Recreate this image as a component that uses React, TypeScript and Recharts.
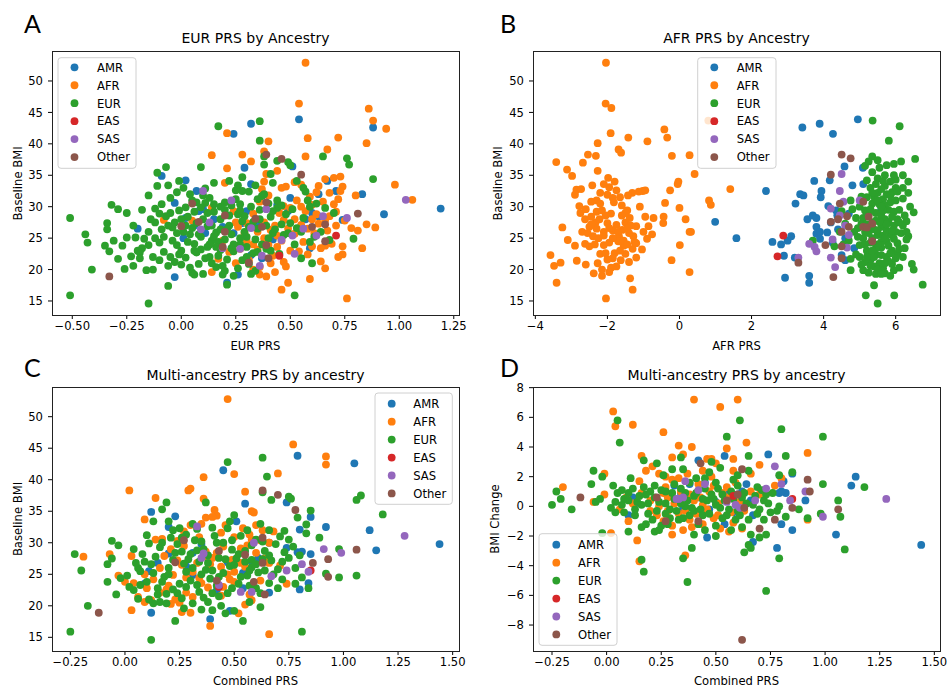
import { ScatterChart, Scatter, XAxis, YAxis } from 'recharts'

type Pt = [number, number]

const ancestries = ['AMR', 'AFR', 'EUR', 'EAS', 'SAS', 'Other']
const colors = ['#1f77b4', '#ff7f0e', '#2ca02c', '#d62728', '#9467bd', '#8c564b']

const bmiTicks = [15, 20, 25, 30, 35, 40, 45, 50]
const eurPrsTicks = [-0.5, -0.25, 0, 0.25, 0.5, 0.75, 1, 1.25]
const afrPrsTicks = [-4, -2, 0, 2, 4, 6]
const combinedTicks = [-0.25, 0, 0.25, 0.5, 0.75, 1, 1.25, 1.5]
const changeTicks = [-8, -6, -4, -2, 0, 2, 4, 6, 8]

// A: EUR PRS vs baseline BMI
const aAmr: Pt[] = [
  [0.54, 43.9], [0.32, 43.2], [0.24, 41.6], [0.88, 42.6], [0.29, 36.2], [0.51, 36.4], [0.02, 34.2], [-0.09, 34.9],
  [0.32, 33.6], [0.67, 34.1], [0.07, 32.5], [0.83, 32.0], [0.63, 32.0], [0.71, 32.5], [0.08, 29.3], [0.1, 29.6],
  [0.3, 29.3], [0.49, 29.3], [0.5, 31.4], [-0.03, 30.6], [0.02, 28.2], [0.57, 28.0], [0.63, 28.5], [0.93, 28.8],
  [1.19, 29.7], [-0.2, 26.5], [0.01, 25.0], [0.19, 26.8], [0.32, 22.3], [0.59, 23.4], [0.74, 27.9], [-0.03, 18.8],
  [0.21, 17.9], [0.26, 19.2], [0.37, 21.8], [0.42, 24.8], [0.11, 25.8], [0.28, 27.4], [0.06, 27.0], [0.15, 28.0],
  [0.35, 27.2], [0.44, 30.3], [0.6, 29.0], [0.24, 25.8],
]
const aAfr: Pt[] = [
  [0.57, 52.9], [0.54, 46.4], [0.86, 45.6], [0.88, 43.7], [0.94, 42.4], [0.21, 41.7], [0.58, 40.9], [0.72, 41.0],
  [0.4, 40.4], [0.85, 40.1], [0.67, 39.1], [0.14, 38.2], [0.28, 38.3], [0.57, 38.0], [0.32, 37.2], [0.38, 38.8],
  [0.21, 36.1], [0.39, 35.2], [0.44, 35.7], [0.2, 33.8], [0.38, 34.0], [0.48, 33.2], [0.55, 33.5], [0.63, 33.3],
  [0.66, 34.4], [0.7, 34.6], [0.73, 34.8], [0.74, 33.2], [0.73, 32.5], [0.72, 31.2], [0.68, 32.2], [0.62, 32.3],
  [0.7, 30.4], [0.8, 31.8], [0.98, 33.5], [1.06, 31.1], [0.71, 29.2], [0.6, 30.3], [0.47, 30.1], [0.36, 30.8],
  [0.57, 29.3], [0.66, 27.9], [0.75, 27.8], [0.78, 26.6], [0.81, 26.2], [0.85, 27.2], [0.89, 26.7], [0.83, 23.4],
  [0.74, 23.7], [0.74, 22.4], [0.72, 22.0], [0.66, 23.8], [0.64, 23.4], [0.64, 21.3], [0.66, 20.2], [0.59, 18.5],
  [0.76, 15.4], [0.49, 17.9], [0.46, 16.8], [0.47, 21.2], [0.41, 21.0], [0.39, 18.9], [0.36, 19.2], [0.25, 21.0],
  [0.14, 19.6], [0.17, 21.7], [0.27, 23.3], [0.3, 24.6], [-0.08, 27.9], [0.05, 27.8], [0.14, 29.8], [0.25, 27.5],
  [0.33, 28.9], [0.43, 27.0], [0.46, 24.6], [0.52, 25.7], [0.55, 27.1], [0.6, 23.7], [0.5, 23.0], [0.42, 22.2],
  [0.35, 26.0], [0.26, 26.8], [0.55, 30.0], [0.59, 31.6], [0.4, 31.8], [0.45, 29.0], [0.52, 28.0], [0.38, 27.5],
  [0.29, 25.8], [0.33, 24.0], [0.44, 23.6], [0.49, 26.5], [0.58, 26.5], [0.62, 28.8], [0.68, 28.5], [0.36, 20.4],
  [0.31, 21.5], [0.35, 23.2], [0.38, 25.0], [0.41, 26.3], [0.44, 25.4], [0.47, 27.9], [0.5, 29.8], [0.53, 31.0],
  [0.56, 24.4], [0.58, 22.4], [0.61, 25.8], [0.63, 27.3], [0.65, 30.8], [0.67, 26.2], [0.69, 24.1], [0.71, 27.0],
  [0.48, 20.5], [0.43, 19.6], [0.33, 20.0], [0.3, 27.4], [0.24, 29.3], [0.19, 24.6], [0.22, 22.8], [0.37, 32.8],
  [0.46, 33.0], [0.52, 33.9], [0.6, 28.0], [0.54, 22.9], [0.4, 23.9],
]
const aEur: Pt[] = [
  [-0.51, 28.2], [-0.51, 15.9], [-0.15, 14.6], [-0.44, 25.6], [-0.43, 24.3], [-0.41, 20.0], [-0.32, 30.3], [-0.29, 29.6],
  [-0.25, 29.0], [-0.34, 27.4], [-0.34, 26.4], [-0.35, 23.8], [-0.33, 22.9], [-0.31, 24.6], [-0.29, 21.7], [-0.25, 25.1],
  [-0.26, 20.1], [-0.22, 20.6], [-0.21, 25.1], [-0.19, 22.7], [-0.19, 21.8], [-0.18, 23.4], [-0.15, 23.9], [-0.12, 25.0],
  [-0.16, 19.9], [-0.13, 20.0], [-0.13, 22.0], [-0.1, 21.5], [-0.06, 17.4], [-0.1, 24.3], [-0.09, 26.4], [-0.12, 27.5],
  [-0.14, 28.0], [-0.12, 29.7], [-0.09, 30.4], [-0.11, 33.3], [-0.11, 35.4], [-0.07, 36.3], [-0.06, 33.4], [-0.02, 32.3],
  [-0.01, 34.1], [-0.05, 29.0], [-0.03, 27.5], [-0.02, 25.8], [0.01, 26.0], [-0.02, 23.9], [-0.01, 22.4], [0.02, 21.9],
  [0.04, 20.3], [0.05, 19.5], [0.1, 19.3], [0.08, 20.9], [0.07, 22.7], [0.06, 24.1], [0.09, 25.2], [0.03, 28.4],
  [0.06, 29.2], [0.05, 31.0], [0.1, 31.8], [0.13, 31.4], [0.09, 36.3], [0.17, 42.8], [0.36, 43.6], [0.36, 40.5],
  [0.38, 38.0], [0.38, 36.7], [0.22, 34.1], [0.26, 33.4], [0.28, 32.5], [0.25, 31.2], [0.2, 30.7], [0.15, 30.4],
  [0.15, 29.2], [0.18, 28.0], [0.22, 27.0], [0.16, 25.9], [0.14, 24.6], [0.12, 23.6], [0.18, 23.1], [0.21, 21.6],
  [0.16, 20.4], [0.19, 19.2], [0.21, 17.6], [0.24, 19.0], [0.28, 21.5], [0.27, 24.0], [0.3, 25.2], [0.31, 26.8],
  [0.29, 28.5], [0.32, 30.0], [0.35, 31.2], [0.38, 32.0], [0.4, 30.5], [0.42, 33.8], [0.44, 37.3], [0.49, 37.1],
  [0.5, 36.6], [0.53, 34.1], [0.56, 33.0], [0.57, 32.4], [0.59, 30.0], [0.65, 38.0], [0.76, 37.7], [0.77, 36.7],
  [0.88, 34.4], [0.7, 29.0], [0.79, 24.9], [0.61, 25.2], [0.68, 24.7], [0.55, 21.8], [0.6, 21.0], [0.52, 15.9],
  [0.34, 19.8], [0.37, 24.0], [0.42, 25.8], [0.46, 27.2], [0.48, 28.8], [0.44, 29.8], [0.36, 28.0], [0.26, 28.8],
  [0.02, 27.0], [-0.01, 29.4], [-0.07, 28.5], [-0.04, 26.7], [0.12, 26.9], [0.1, 28.0], [0.13, 22.0], [0.24, 22.9],
  [0.33, 22.6], [0.39, 23.3], [0.45, 22.5], [0.52, 24.0], [0.55, 26.0], [0.49, 25.8], [-0.05, 22.0], [0.0, 20.8],
  [0.09, 23.2], [0.17, 24.4], [0.23, 25.6], [0.05, 26.6], [-0.08, 25.2], [0.11, 30.6], [0.2, 29.5], [0.27, 30.4],
  [0.33, 27.6], [0.41, 28.4], [0.24, 24.0], [0.18, 26.4], [0.06, 23.0], [-0.04, 24.6], [0.14, 21.0], [0.3, 22.0],
  [-0.08, 22.8], [-0.06, 20.6], [-0.03, 21.2], [0.0, 23.0], [0.03, 24.4], [0.04, 25.6], [0.07, 27.4], [0.09, 29.9],
  [0.11, 32.9], [0.12, 29.0], [0.14, 27.0], [0.15, 25.3], [0.16, 23.6], [0.17, 22.2], [0.19, 20.6], [0.2, 24.8],
  [0.21, 26.4], [0.22, 28.6], [0.23, 30.2], [0.25, 32.6], [0.27, 29.4], [0.28, 27.7], [0.29, 26.0], [0.3, 23.6],
  [0.31, 20.9], [0.32, 19.3], [0.34, 24.8], [0.35, 26.5], [0.36, 29.5], [0.37, 31.7], [0.39, 27.0], [0.4, 25.0],
  [0.41, 23.0], [0.43, 26.4], [0.44, 31.0], [0.46, 30.2], [0.47, 25.5], [0.5, 27.4], [0.51, 29.6], [0.53, 26.6],
  [-0.15, 26.0], [-0.17, 24.9], [-0.2, 23.0], [-0.23, 22.1], [-0.27, 23.8], [-0.22, 27.0], [-0.18, 29.5], [-0.15, 31.8],
  [-0.05, 31.4], [0.01, 33.0], [0.04, 32.0], [0.07, 30.7], [0.0, 28.0], [-0.06, 27.0], [0.11, 21.8], [0.06, 19.2],
  [0.2, 19.8], [0.26, 20.2], [0.13, 24.0], [0.23, 23.4], [0.18, 30.0], [0.31, 32.4], [0.34, 33.4], [0.42, 29.3],
  [0.56, 28.2], [0.58, 31.0], [0.62, 30.5], [0.66, 29.8], [0.64, 26.0], [0.59, 24.4], [0.35, 22.8], [0.27, 25.0],
  [0.08, 25.6], [0.02, 29.9], [-0.1, 28.9], [0.15, 33.8], [0.28, 34.7], [0.41, 35.2],
]
const aEas: Pt[] = [[0.71, 25.4], [0.45, 22.2]]
const aSas: Pt[] = [
  [0.1, 32.5], [0.23, 31.0], [0.39, 29.6], [0.13, 27.5], [0.09, 26.4], [0.32, 26.6], [0.65, 28.5], [0.76, 28.2],
  [1.03, 31.1], [0.56, 26.5], [0.51, 25.4], [0.46, 24.7], [0.62, 25.4], [0.52, 22.5], [0.27, 23.3], [0.19, 23.4],
  [0.37, 22.2], [0.36, 20.6],
]
const aOther: Pt[] = [
  [0.39, 38.3], [0.46, 37.6], [0.55, 35.1], [0.05, 30.5], [0.39, 30.7], [0.81, 28.9], [0.2, 28.6], [0.34, 28.1],
  [0.08, 27.6], [0.0, 26.9], [0.2, 26.0], [0.37, 26.8], [0.6, 26.8], [0.66, 27.2], [0.66, 24.5], [0.39, 23.9],
  [0.19, 23.6], [0.4, 21.8], [0.31, 21.1], [-0.33, 18.9],
]

// B: AFR PRS vs baseline BMI
const bAmr: Pt[] = [
  [4.95, 43.9], [3.41, 42.6], [3.89, 43.2], [4.26, 41.6], [5.09, 36.2], [4.58, 36.4], [3.74, 34.1], [4.17, 34.2],
  [4.8, 33.4], [5.1, 33.6], [2.4, 32.5], [3.35, 32.0], [3.44, 31.8], [3.94, 32.5], [3.92, 31.5], [3.22, 30.5],
  [4.13, 30.1], [0.99, 27.6], [1.58, 25.0], [2.58, 24.4], [2.82, 24.0], [3.0, 24.6], [3.1, 25.3], [2.9, 22.2],
  [3.2, 21.9], [2.93, 18.7], [3.6, 19.0], [3.6, 17.9], [3.55, 28.0], [3.7, 28.6], [3.8, 28.2], [3.8, 26.8],
  [3.8, 25.7], [3.9, 24.9], [4.2, 27.5], [4.38, 28.6], [4.4, 26.4], [4.6, 25.0], [4.5, 22.3], [4.6, 21.5],
  [4.7, 28.9], [5.2, 26.5], [5.6, 29.6], [5.2, 28.6], [4.35, 29.4], [4.1, 25.9], [4.25, 24.3], [4.85, 23.4],
  [3.9, 26.0],
]
const bAfr: Pt[] = [
  [-2.04, 52.9], [-2.05, 46.4], [-1.89, 45.7], [-1.91, 41.7], [-2.27, 40.1], [-1.42, 41.0], [-0.42, 42.3], [-0.34, 41.0],
  [-0.89, 40.4], [-1.69, 39.1], [-1.62, 38.6], [-2.54, 38.3], [-2.32, 38.1], [-0.21, 38.1], [0.28, 38.2], [-3.42, 37.1],
  [-2.68, 37.0], [-3.12, 35.9], [-2.98, 34.9], [-2.27, 35.7], [-1.98, 34.6], [-1.8, 34.0], [-2.42, 33.4], [0.42, 35.2],
  [-0.03, 34.0], [-0.05, 33.6], [1.41, 32.8], [-0.26, 32.6], [0.82, 31.0], [0.87, 30.3], [-0.4, 30.6], [0.0, 29.8],
  [0.17, 28.0], [0.28, 26.0], [0.32, 26.0], [-0.44, 28.4], [-0.45, 27.4], [-0.72, 28.2], [-0.86, 26.9], [-0.76, 25.6],
  [-0.9, 24.9], [0.01, 23.9], [-1.04, 23.2], [-1.2, 21.9], [-0.22, 21.5], [0.28, 19.6], [-1.37, 18.6], [-1.3, 16.8],
  [-2.04, 15.4], [-3.41, 17.9], [-3.58, 22.3], [-3.48, 20.6], [-3.3, 21.1], [-3.25, 26.7], [-3.1, 24.7], [-2.9, 23.8],
  [-2.85, 21.4], [-2.6, 20.8], [-2.5, 23.7], [-2.86, 32.7], [-2.73, 32.8], [-2.9, 31.9], [-2.78, 30.1], [-2.75, 29.0],
  [-2.62, 28.0], [-2.5, 26.8], [-2.4, 25.3], [-2.33, 27.5], [-2.22, 28.0], [-2.1, 26.0], [-2.0, 27.4], [-1.9, 28.9],
  [-1.82, 30.7], [-1.75, 27.1], [-1.68, 25.3], [-1.59, 26.3], [-1.5, 27.5], [-1.45, 29.4], [-1.38, 28.2], [-1.28, 25.3],
  [-1.2, 26.9], [-1.13, 32.4], [-1.02, 32.5], [-0.95, 32.6], [-1.31, 32.2], [-1.43, 31.8], [-1.85, 31.4], [-1.95, 33.1],
  [-2.1, 33.6], [-2.3, 31.0], [-2.45, 30.8], [-2.2, 30.5], [-2.35, 24.0], [-2.2, 22.5], [-2.27, 21.0], [-2.38, 19.4],
  [-2.15, 19.0], [-2.0, 21.6], [-1.9, 20.3], [-1.75, 20.5], [-1.63, 21.5], [-1.5, 22.5], [-1.4, 21.2], [-1.3, 23.3],
  [-1.55, 23.8], [-1.7, 24.5], [-1.95, 24.3], [-2.1, 23.9], [-1.6, 30.2], [-1.6, 28.6], [-1.1, 30.0], [-0.95, 28.4],
  [-2.62, 24.1], [-2.7, 26.0], [-2.1, 25.4], [0.8, 43.7], [-1.85, 26.2], [-2.3, 26.5], [-1.25, 24.4], [-1.8, 22.6],
  [-2.45, 28.4], [-2.3, 29.2], [-2.15, 29.4], [-2.05, 28.6], [-1.95, 26.6], [-1.85, 25.0], [-1.7, 26.0], [-1.55, 24.6],
  [-1.4, 25.8], [-1.35, 27.0], [-1.5, 29.0], [-1.65, 31.5], [-1.75, 32.6], [-2.0, 31.9], [-2.2, 32.2], [-2.45, 27.2],
  [-2.55, 25.8], [-2.25, 25.0], [-2.05, 22.6], [-1.85, 21.8], [-1.65, 23.0], [-1.45, 24.0], [-1.2, 24.2], [-1.0, 26.0],
  [-2.6, 29.6], [-2.15, 20.0], [-1.95, 19.6], [-1.45, 26.5],
]
const bEur: Pt[] = [
  [5.36, 43.7], [6.11, 42.8], [5.81, 40.5], [6.54, 37.6], [5.35, 38.0], [5.5, 37.4], [5.15, 36.5], [5.35, 35.5],
  [5.7, 35.0], [5.95, 36.8], [6.15, 37.2], [6.2, 35.0], [6.0, 34.3], [6.2, 33.0], [6.35, 32.2], [6.4, 30.0],
  [6.5, 29.1], [6.3, 27.7], [6.35, 25.3], [6.3, 24.8], [6.45, 20.9], [6.5, 20.0], [6.75, 17.6], [5.96, 15.9],
  [5.5, 14.6], [5.17, 15.9], [5.4, 17.5], [4.75, 19.9], [5.1, 19.9], [5.25, 19.5], [5.45, 19.3], [5.7, 19.4],
  [5.95, 19.9], [4.7, 24.6], [4.75, 21.7], [3.7, 24.6], [5.0, 22.0], [5.2, 23.0], [5.3, 24.3], [5.5, 25.5],
  [5.6, 26.8], [5.7, 28.0], [5.8, 29.5], [5.85, 30.7], [5.65, 31.2], [5.5, 32.2], [5.3, 33.0], [5.2, 31.5],
  [5.0, 30.0], [4.9, 28.2], [5.05, 27.3], [5.15, 26.0], [5.35, 27.5], [5.45, 29.0], [5.55, 30.4], [5.7, 33.3],
  [5.9, 32.3], [6.0, 31.0], [6.1, 29.5], [6.05, 28.0], [5.95, 27.0], [5.85, 25.6], [5.75, 24.5], [5.6, 23.5],
  [5.45, 22.4], [5.3, 21.5], [5.55, 21.0], [5.75, 22.0], [5.9, 23.0], [6.05, 24.2], [6.15, 25.8], [6.2, 27.0],
  [6.05, 22.5], [5.9, 20.9], [5.65, 20.2], [5.4, 20.5], [5.15, 21.2], [5.0, 23.9], [5.1, 25.0], [4.85, 26.0],
  [4.6, 27.3], [4.5, 29.3], [4.75, 31.0], [5.35, 30.5], [5.6, 28.6], [5.25, 28.8], [5.8, 27.6], [5.5, 26.2],
  [5.65, 25.4], [5.35, 25.0], [5.85, 34.0], [5.5, 34.5], [6.0, 33.0], [4.45, 26.0], [4.3, 23.7], [4.55, 24.0],
  [5.6, 24.4], [5.45, 23.4], [5.75, 26.2], [5.25, 26.9], [5.95, 29.2], [5.4, 31.6], [5.15, 29.4], [5.7, 30.2],
  [5.3, 22.6], [5.8, 21.3], [6.25, 23.4], [4.95, 25.2], [5.2, 34.2], [5.45, 33.6], [5.6, 32.8], [5.75, 32.0],
  [5.5, 31.0], [5.3, 29.6], [5.1, 28.2], [5.25, 25.8], [5.4, 26.4], [5.55, 27.6], [5.65, 29.4], [5.9, 28.4],
  [6.0, 26.0], [6.1, 23.3], [5.95, 24.9], [5.8, 23.8], [5.7, 21.0], [5.5, 20.0], [5.3, 20.6], [5.05, 20.8],
  [4.9, 22.4], [5.15, 24.0], [5.4, 22.0], [5.6, 22.3], [5.85, 22.6], [6.0, 21.8], [6.2, 22.0], [6.3, 26.0],
  [6.25, 28.6], [6.2, 31.3], [6.05, 32.4], [5.85, 31.8], [5.6, 30.0], [5.45, 27.8], [5.2, 27.2], [4.95, 26.6],
  [4.8, 29.6], [5.05, 31.6], [5.35, 32.2], [5.65, 34.1], [5.95, 35.0], [5.25, 37.2], [5.55, 36.2], [5.75, 36.6],
  [6.35, 34.0], [5.5, 24.0], [5.7, 25.0], [5.75, 27.2], [5.9, 26.2], [6.1, 27.5], [5.35, 23.0], [5.2, 22.0],
  [5.6, 19.3], [5.85, 19.0], [6.1, 20.3],
]
const bEas: Pt[] = [[2.88, 25.4], [2.72, 22.1]]
const bSas: Pt[] = [
  [4.5, 35.2], [4.45, 32.5], [4.55, 30.8], [5.0, 31.0], [4.2, 29.7], [4.45, 28.6], [4.6, 27.0], [4.7, 25.5],
  [4.25, 24.8], [3.75, 23.6], [3.8, 22.9], [4.2, 21.9], [4.32, 20.4], [3.3, 21.9], [4.65, 23.5], [3.6, 24.1],
]
const bOther: Pt[] = [
  [4.5, 38.3], [4.75, 37.7], [4.2, 35.1], [4.45, 30.5], [5.1, 30.8], [4.65, 28.5], [4.4, 28.0], [4.2, 27.6],
  [5.25, 28.4], [4.5, 26.0], [4.7, 26.8], [5.1, 26.8], [5.2, 26.7], [5.35, 27.3], [5.35, 24.5], [4.05, 23.9],
  [4.5, 23.7], [4.5, 21.8], [3.3, 21.1], [4.27, 18.8],
]

// C: combined PRS vs baseline BMI
const cAmr: Pt[] = [
  [0.79, 43.8], [0.45, 41.5], [1.05, 42.6], [0.55, 36.2], [0.74, 36.4], [0.12, 34.9], [0.23, 34.2], [0.2, 32.5],
  [0.85, 34.1], [0.92, 32.5], [0.8, 32.1], [1.12, 32.0], [1.44, 29.8], [1.15, 28.8], [0.51, 33.4], [0.85, 28.2],
  [0.79, 28.5], [0.81, 28.6], [0.74, 29.2], [0.61, 27.6], [0.47, 26.9], [0.2, 28.3], [0.11, 25.5], [0.09, 23.5],
  [0.31, 24.9], [0.54, 25.2], [0.84, 23.6], [0.8, 22.6], [0.66, 22.1], [0.54, 22.8], [0.42, 22.4], [0.12, 18.9],
  [0.39, 17.9], [0.48, 19.2], [0.31, 28.4], [0.28, 26.3], [0.35, 29.8], [0.58, 27.0], [0.66, 30.0], [0.15, 26.8],
]
const cAfr: Pt[] = [
  [0.47, 52.8], [0.77, 45.6], [0.92, 43.7], [0.92, 42.4], [0.7, 41.0], [0.5, 40.9], [0.36, 40.4], [0.3, 38.6],
  [0.29, 38.3], [0.02, 38.3], [0.55, 38.1], [0.14, 37.1], [0.36, 37.0], [0.58, 35.0], [0.59, 34.8], [0.41, 35.2],
  [0.42, 34.3], [0.37, 34.0], [0.4, 34.1], [0.09, 33.7], [0.46, 32.8], [0.3, 32.8], [0.54, 32.3], [0.6, 32.8],
  [0.63, 32.0], [0.68, 31.8], [0.66, 30.0], [0.58, 30.5], [0.14, 30.5], [0.17, 30.6], [0.24, 30.3], [-0.19, 27.8],
  [-0.07, 28.2], [0.03, 27.9], [-0.03, 24.8], [0.0, 23.8], [0.04, 23.6], [0.09, 25.0], [0.1, 22.8], [0.12, 20.9],
  [0.09, 20.6], [0.03, 19.3], [0.16, 22.1], [0.21, 20.3], [0.25, 20.5], [0.26, 19.0], [0.3, 18.9], [0.39, 16.8],
  [0.52, 18.8], [0.55, 20.2], [0.58, 20.9], [0.66, 15.5], [0.74, 23.5], [0.62, 24.0], [0.48, 24.2], [0.35, 23.6],
  [0.28, 22.1], [0.34, 24.4], [0.26, 26.5], [0.18, 27.9], [0.42, 28.4], [0.45, 29.4], [0.53, 29.1], [0.34, 30.9],
  [0.64, 27.5], [0.71, 26.4], [0.55, 26.2], [0.39, 26.6], [0.22, 24.9], [0.16, 26.0], [0.49, 27.3], [0.31, 21.4],
  [0.44, 21.6], [0.36, 27.8], [0.27, 29.5], [0.5, 25.4], [0.57, 31.3], [0.2, 23.2], [0.28, 24.5], [0.31, 25.4],
  [0.33, 26.8], [0.37, 28.6], [0.4, 27.6], [0.44, 26.2], [0.47, 25.0], [0.5, 23.8], [0.53, 26.8], [0.56, 29.6],
  [0.6, 28.4], [0.62, 30.4], [0.66, 26.8], [0.24, 27.2], [0.21, 29.0], [0.19, 22.6], [0.23, 21.0], [0.38, 22.9],
  [0.45, 23.0], [0.57, 21.8], [0.35, 33.0], [0.44, 31.6], [0.27, 31.8], [0.13, 24.2], [0.06, 21.4], [0.5, 30.9],
]
const cEur: Pt[] = [
  [0.47, 42.8], [0.63, 43.5], [0.65, 40.5], [0.63, 38.0], [0.67, 36.8], [0.75, 37.3], [0.76, 37.0], [1.06, 36.8],
  [1.08, 37.5], [1.18, 34.5], [0.85, 35.1], [0.79, 34.0], [0.83, 32.9], [0.89, 30.8], [0.98, 29.0], [0.92, 25.1],
  [0.98, 24.5], [1.06, 24.8], [0.81, 15.9], [0.81, 24.5], [0.78, 23.5], [0.84, 22.8], [0.72, 27.0], [0.73, 28.5],
  [0.75, 30.5], [0.73, 31.9], [0.66, 32.0], [0.62, 33.0], [0.5, 34.4], [0.47, 32.3], [0.37, 36.4], [0.19, 36.4],
  [0.17, 35.3], [0.13, 33.4], [0.2, 33.4], [0.25, 32.3], [0.33, 32.2], [0.28, 31.3], [0.21, 30.8], [0.11, 29.9],
  [0.04, 29.0], [-0.06, 30.3], [-0.03, 29.6], [-0.06, 27.5], [-0.08, 26.6], [-0.08, 23.8], [-0.04, 21.8], [-0.23, 28.2],
  [-0.2, 25.6], [-0.17, 20.0], [-0.25, 15.9], [0.12, 14.6], [0.23, 17.6], [0.54, 17.6], [0.4, 19.3], [0.44, 20.0],
  [0.5, 19.2], [0.62, 19.8], [0.57, 20.6], [0.6, 22.8], [0.7, 22.8], [0.68, 25.0], [0.64, 25.6], [0.01, 24.8],
  [0.04, 22.5], [0.06, 21.1], [0.07, 23.3], [0.1, 23.8], [0.13, 20.4], [0.16, 20.6], [0.19, 21.9], [0.22, 22.6],
  [0.25, 23.5], [0.28, 25.4], [0.22, 27.3], [0.14, 27.8], [0.08, 28.2], [0.16, 29.3], [0.24, 29.8], [0.3, 28.2],
  [0.34, 27.0], [0.37, 25.7], [0.39, 24.3], [0.42, 23.2], [0.45, 25.2], [0.48, 26.3], [0.51, 27.5], [0.55, 28.7],
  [0.58, 27.3], [0.61, 25.3], [0.64, 28.7], [0.69, 29.8], [0.6, 30.5], [0.53, 31.1], [0.45, 30.0], [0.41, 31.1],
  [0.36, 29.0], [0.32, 30.4], [0.27, 26.7], [0.33, 23.3], [0.36, 21.3], [0.31, 20.4], [0.26, 21.2], [0.4, 22.0],
  [0.52, 23.5], [0.56, 24.8], [0.47, 22.0], [0.3, 24.0], [0.18, 24.6], [0.12, 26.6], [0.06, 26.0], [0.2, 26.0],
  [0.35, 25.0], [0.43, 27.6], [0.49, 28.9], [0.58, 26.1], [0.67, 27.2], [0.26, 28.6], [0.38, 28.0], [0.15, 22.8],
  [0.05, 26.8], [0.09, 27.0], [0.13, 25.2], [0.17, 23.8], [0.2, 25.0], [0.23, 28.4], [0.26, 30.8], [0.29, 27.4],
  [0.31, 26.0], [0.33, 28.8], [0.35, 30.2], [0.38, 26.8], [0.4, 25.6], [0.43, 24.6], [0.46, 27.4], [0.49, 30.4],
  [0.52, 28.2], [0.55, 27.0], [0.57, 25.6], [0.6, 26.6], [0.63, 27.4], [0.66, 28.0], [0.7, 25.8], [0.75, 27.6],
  [0.78, 26.0], [0.8, 28.0], [0.83, 31.5], [0.71, 31.0], [0.63, 30.2], [0.56, 32.0], [0.48, 33.4], [0.4, 32.4],
  [0.31, 33.0], [0.22, 32.0], [0.17, 30.0], [0.1, 31.2], [0.07, 25.5], [0.02, 23.0], [-0.02, 24.4], [0.11, 21.0],
  [0.19, 20.4], [0.24, 22.0], [0.28, 23.0], [0.34, 22.2], [0.38, 20.6], [0.43, 21.5], [0.49, 22.8], [0.53, 24.6],
  [0.57, 23.2], [0.62, 22.0], [0.66, 23.6], [0.46, 18.8], [0.35, 19.4], [0.27, 19.6], [0.15, 21.8], [0.42, 30.0],
  [0.5, 26.5], [0.58, 29.6], [0.72, 24.2], [0.77, 29.4],
]
const cEas: Pt[] = [[0.85, 25.6], [0.43, 23.0]]
const cSas: Pt[] = [
  [0.33, 32.6], [0.36, 28.3], [0.35, 27.6], [0.59, 30.0], [0.91, 29.0], [0.99, 28.4], [1.28, 31.1], [0.81, 26.6],
  [0.74, 25.6], [0.84, 25.4], [0.67, 24.7], [0.43, 23.3], [0.53, 22.2], [0.58, 22.2],
]
const cOther: Pt[] = [
  [0.63, 38.3], [0.7, 37.6], [0.78, 35.2], [0.27, 30.4], [0.63, 30.8], [1.06, 28.9], [0.43, 28.7], [0.55, 28.1],
  [0.23, 26.9], [0.63, 26.8], [0.86, 26.8], [0.93, 27.4], [0.93, 24.6], [0.42, 24.0], [0.59, 23.8], [0.64, 21.8],
  [-0.12, 18.9],
]

// D: combined PRS vs BMI change
const dAmr: Pt[] = [
  [0.42, 3.1], [0.54, 3.4], [0.74, 3.5], [0.38, 1.5], [0.45, 1.6], [0.64, 1.5], [0.81, 1.7], [0.85, 2.2],
  [0.91, 0.4], [0.82, 0.9], [0.79, 0.9], [0.8, 1.0], [1.14, 2.0], [1.12, 1.4], [0.85, -1.6], [0.8, -1.2],
  [0.78, -2.8], [0.67, -2.4], [0.46, -2.1], [0.54, -1.2], [1.05, -1.9], [1.44, -2.6], [0.47, -0.2], [0.1, -0.6],
  [0.12, 0.6], [0.13, 0.2], [0.31, 1.4], [0.6, 0.8], [0.66, 0.4], [0.56, 0.9], [0.34, 0.9], [0.62, 1.0],
  [0.35, -0.1], [0.5, 0.3], [0.58, -0.4], [0.42, 0.6], [0.67, -0.6], [0.27, 0.9],
]
const dAfr: Pt[] = [
  [0.4, 7.2], [0.6, 7.2], [0.52, 6.7], [0.03, 6.4], [0.04, 5.4], [0.12, 5.5], [0.26, 5.0], [0.64, 4.3],
  [0.33, 4.1], [0.39, 4.0], [0.55, 3.9], [0.92, 3.6], [0.16, 3.4], [0.3, 3.3], [0.46, 3.2], [0.48, 3.2],
  [0.35, 3.5], [0.5, 2.9], [0.58, 3.2], [0.7, 2.8], [0.21, 2.7], [0.18, 2.4], [0.24, 2.2], [-0.01, 2.2],
  [0.37, 2.2], [0.58, 2.4], [-0.2, 1.3], [0.15, 1.7], [0.3, 1.8], [0.42, 1.5], [0.55, 1.3], [0.77, 1.4],
  [0.66, 1.0], [-0.06, 0.3], [-0.01, 0.8], [0.06, -0.2], [0.1, -1.0], [0.2, -0.3], [0.26, -1.0], [0.3, -1.3],
  [0.35, -1.6], [0.3, -1.9], [0.52, -1.5], [0.56, -1.7], [0.62, -1.5], [0.44, -1.2], [0.49, -0.8], [0.02, -1.8],
  [0.14, -2.3], [0.36, -3.3], [0.15, -3.7], [0.92, -0.9], [0.8, 1.9], [0.63, -0.3], [0.4, 0.4], [0.47, 1.0],
  [0.28, 0.6], [0.24, 0.0], [0.12, 0.2], [0.33, -0.5], [0.44, 0.1], [0.55, 0.6], [0.7, 0.8], [0.38, -0.9],
  [0.27, 1.3], [0.51, 0.2], [0.2, 0.4], [0.23, -0.6], [0.26, 0.9], [0.28, -0.3], [0.31, 0.2], [0.34, 1.0],
  [0.36, -0.3], [0.38, 0.8], [0.41, -0.5], [0.43, 0.6], [0.46, -0.2], [0.49, 1.4], [0.51, -0.6], [0.53, 0.9],
  [0.57, -0.4], [0.59, 1.6], [0.61, 0.3], [0.27, 2.0], [0.33, 1.9], [0.44, 2.4], [0.16, 0.9], [0.09, 0.6],
  [0.39, -1.4], [0.58, -1.1], [0.48, 2.0], [0.66, 2.2],
]
const dEur: Pt[] = [
  [0.05, 5.8], [0.61, 5.8], [0.8, 5.2], [0.99, 4.7], [0.55, 4.7], [0.06, 4.3], [0.65, 3.4], [0.82, 3.4],
  [0.34, 3.3], [0.48, 3.0], [0.17, 3.1], [0.23, 2.9], [-0.06, 2.4], [-0.02, 2.0], [0.35, 2.5], [0.65, 2.4],
  [0.85, 2.3], [0.79, 2.1], [0.99, 1.5], [1.18, 1.3], [-0.23, 1.0], [-0.07, 1.5], [-0.21, 0.5], [-0.25, 0.1],
  [-0.16, -0.2], [0.03, 1.4], [0.05, 0.9], [0.04, 0.3], [-0.05, 0.3], [-0.03, 0.5], [0.02, -0.1], [1.06, 0.4],
  [1.07, -0.7], [1.09, -2.9], [0.92, -0.8], [0.98, -0.5], [0.88, -0.2], [0.73, -1.9], [0.7, -2.1], [0.66, -1.9],
  [0.65, -2.6], [0.66, -2.8], [0.63, -3.1], [0.79, -3.5], [0.73, -5.7], [0.37, -5.1], [0.35, -3.5], [0.39, -2.8],
  [0.16, -3.6], [0.17, -4.4], [-0.02, -1.8], [0.1, -1.7], [0.16, -1.4], [0.22, -1.7], [0.25, -1.3], [0.57, -1.6],
  [0.5, -1.3], [0.75, -0.4], [0.72, -0.9], [0.82, -0.7], [0.72, 0.4], [0.73, 0.8], [0.79, 0.0], [0.62, 0.6],
  [0.57, 1.0], [0.5, 1.6], [0.45, 1.2], [0.4, 0.7], [0.36, 0.0], [0.31, 0.5], [0.27, 1.0], [0.22, 1.4],
  [0.18, 0.8], [0.14, 0.3], [0.1, 0.9], [0.08, -0.4], [0.13, -0.6], [0.19, -0.5], [0.24, 0.3], [0.29, -0.2],
  [0.33, -0.9], [0.38, -0.6], [0.43, -0.2], [0.46, 0.4], [0.52, -0.1], [0.55, -0.6], [0.6, -0.3], [0.64, 0.2],
  [0.68, 0.7], [0.53, 0.8], [0.41, 1.9], [0.31, 1.5], [0.26, 2.1], [0.58, 1.8], [0.69, 1.3], [0.47, 2.3],
  [0.2, 1.0], [0.12, 1.2], [0.36, 0.9], [0.44, -0.6], [0.29, -0.8], [0.23, -0.3], [0.16, 0.1], [0.34, 0.2],
  [0.49, 0.5], [0.59, -0.9], [0.7, -0.2], [0.27, -0.5], [0.4, -0.3], [0.08, 0.5], [0.04, -0.4], [0.07, 0.1],
  [0.1, 0.4], [0.13, -0.2], [0.15, 0.7], [0.17, 1.3], [0.19, 0.2], [0.21, -0.9], [0.22, 0.6], [0.25, 1.1],
  [0.27, 0.2], [0.28, -1.2], [0.3, 0.9], [0.32, -0.3], [0.34, 1.2], [0.35, -0.8], [0.37, 0.4], [0.38, 1.6],
  [0.39, -0.1], [0.41, 0.9], [0.42, -1.2], [0.44, 0.5], [0.45, 1.9], [0.47, -0.5], [0.48, 0.8], [0.5, 0.1],
  [0.51, 1.2], [0.53, -0.8], [0.54, 0.4], [0.56, -0.2], [0.58, 0.5], [0.6, 1.4], [0.61, -0.6], [0.63, 0.9],
  [0.65, -0.9], [0.67, 0.1], [0.69, -0.5], [0.71, 1.1], [0.74, 0.2], [0.76, 0.9], [0.78, -0.3], [0.62, -1.4],
  [0.45, -1.6], [0.3, 2.5], [0.52, 2.6], [0.6, 2.1], [0.11, 1.9], [0.07, 1.1], [0.18, -1.2], [0.24, -1.6],
  [0.5, -2.0], [0.4, -1.9],
]
const dEas: Pt[] = [[0.58, 0.7], [0.85, 0.5]]
const dSas: Pt[] = [
  [0.77, 2.7], [0.36, 1.7], [0.45, 1.5], [0.42, 1.1], [0.8, 1.5], [0.73, 1.2], [0.91, 1.0], [0.32, 0.5],
  [0.35, 0.6], [0.33, 0.5], [0.55, 0.3], [0.59, 0.1], [0.68, 0.4], [0.84, 0.4], [0.99, -0.7], [1.28, 0.5],
  [0.61, -0.1],
]
const dOther: Pt[] = [
  [0.43, 2.9], [0.62, 2.5], [0.92, 1.8], [0.93, 1.0], [-0.12, 0.6], [0.23, 0.6], [0.6, 0.8], [0.55, 0.4],
  [0.63, -0.1], [0.85, -0.1], [1.06, -0.2], [0.27, -1.0], [0.42, -1.0], [0.77, -0.9], [0.7, -1.5], [0.62, -9.0],
]

const fmt2 = (v: number) => (v < 0 ? '\u2212' : '') + Math.abs(v).toFixed(2)
const fmt0 = (v: number) => (v < 0 ? '\u2212' : '') + Math.abs(v).toFixed(0)

const FONT = 'DejaVu Sans, sans-serif'

const panels = [
  {
    id: 'A', left: 0, top: 0, w: 474, h: 345, yWidth: 52, xHeight: 30, mTop: 51, mRight: 15,
    xDomain: [-0.593, 1.274], yDomain: [12.77, 54.77], xTicks: eurPrsTicks, yTicks: bmiTicks, fx: fmt2,
    series: [aAmr, aAfr, aEur, aEas, aSas, aOther],
  },
  {
    id: 'B', left: 474, top: 0, w: 474, h: 345, yWidth: 59, xHeight: 30, mTop: 51, mRight: 8,
    xDomain: [-4.065, 7.23], yDomain: [12.77, 54.77], xTicks: afrPrsTicks, yTicks: bmiTicks, fx: fmt0,
    series: [bAmr, bAfr, bEur, bEas, bSas, bOther],
  },
  {
    id: 'C', left: 0, top: 345, w: 474, h: 344, yWidth: 52, xHeight: 38, mTop: 42, mRight: 15,
    xDomain: [-0.334, 1.529], yDomain: [12.83, 54.71], xTicks: combinedTicks, yTicks: bmiTicks, fx: fmt2,
    series: [cAmr, cAfr, cEur, cEas, cSas, cOther],
  },
  {
    id: 'D', left: 474, top: 345, w: 474, h: 344, yWidth: 59, xHeight: 38, mTop: 42, mRight: 8,
    xDomain: [-0.337, 1.526], yDomain: [-9.75, 8.045], xTicks: combinedTicks, yTicks: changeTicks, fx: fmt2,
    series: [dAmr, dAfr, dEur, dEas, dSas, dOther],
  },
]

// overlay text/legend positions
const frames = [
  { x: 52, y: 51, w: 407, h: 264 },
  { x: 533, y: 51, w: 407, h: 264 },
  { x: 52, y: 387, w: 407, h: 264 },
  { x: 533, y: 387, w: 407, h: 264 },
]
const titles = [
  { x: 255.5, y: 43.3, t: 'EUR PRS by Ancestry' },
  { x: 736.5, y: 43.3, t: 'AFR PRS by Ancestry' },
  { x: 255.5, y: 380, t: 'Multi-ancestry PRS by ancestry' },
  { x: 736.5, y: 380, t: 'Multi-ancestry PRS by ancestry' },
]
const letters = [
  { x: 24, y: 33, t: 'A' },
  { x: 500, y: 33, t: 'B' },
  { x: 24, y: 377, t: 'C' },
  { x: 500, y: 377, t: 'D' },
]
const xLabels = [
  { x: 255.5, y: 349.5, t: 'EUR PRS' },
  { x: 736.5, y: 349.5, t: 'AFR PRS' },
  { x: 255.5, y: 685, t: 'Combined PRS' },
  { x: 736.5, y: 685, t: 'Combined PRS' },
]
const yLabels = [
  { x: 21.5, y: 183.5, t: 'Baseline BMI' },
  { x: 502, y: 183.5, t: 'Baseline BMI' },
  { x: 21.5, y: 519, t: 'Baseline BMI' },
  { x: 499, y: 519, t: 'BMI Change' },
]
const legends = [
  { x: 58, y: 57.7, w: 78, h: 110.6, mx: 74.5, tx: 97, row0: 67.3 },
  { x: 697.7, y: 57.7, w: 78.3, h: 110.6, mx: 714.3, tx: 736.7, row0: 67.3 },
  { x: 375, y: 393, w: 77.3, h: 111.3, mx: 391.7, tx: 413.3, row0: 403.7 },
  { x: 539, y: 533.7, w: 78, h: 111.6, mx: 556.3, tx: 578, row0: 544.7 },
]

const R = 3.9

const Dot = (color: string) => (p: any) => <circle cx={p.cx} cy={p.cy} r={R} fill={color} />

const Panel = ({ p }: { p: (typeof panels)[number] }) => (
  <div style={{ position: 'absolute', left: p.left, top: p.top }}>
    <ScatterChart
      width={p.w}
      height={p.h}
      margin={{ top: p.mTop, right: p.mRight, bottom: 0, left: 0 }}
    >
      <XAxis
        type='number'
        dataKey='x'
        domain={p.xDomain}
        ticks={p.xTicks}
        tickFormatter={p.fx}
        allowDataOverflow
        height={p.xHeight}
        axisLine={false}
        tickSize={4}
        tickMargin={3}
        tickLine={{ stroke: '#000' }}
        tick={{ fill: '#000', fontSize: 11.6, fontFamily: FONT }}
      />
      <YAxis
        type='number'
        dataKey='y'
        domain={p.yDomain}
        ticks={p.yTicks}
        tickFormatter={fmt0}
        allowDataOverflow
        width={p.yWidth}
        axisLine={false}
        tickSize={4}
        tickMargin={5}
        tickLine={{ stroke: '#000' }}
        tick={{ fill: '#000', fontSize: 11.6, fontFamily: FONT }}
      />
      {p.series.map((pts, i) => (
        <Scatter
          key={ancestries[i]}
          name={ancestries[i]}
          data={pts.map(([x, y]) => ({ x, y }))}
          fill={colors[i]}
          shape={Dot(colors[i])}
          isAnimationActive={false}
        />
      ))}
    </ScatterChart>
  </div>
)

export default function App() {
  return (
    <div style={{ position: 'absolute', left: 0, top: 0, width: 948, height: 689, background: '#fff' }}>
      {panels.map((p) => (
        <Panel key={p.id} p={p} />
      ))}
      <svg
        width={948}
        height={689}
        style={{ position: 'absolute', left: 0, top: 0, pointerEvents: 'none' }}
        fontFamily={FONT}
      >
        {frames.map((f, i) => (
          <rect key={i} x={f.x + 0.5} y={f.y + 0.5} width={f.w} height={f.h} fill='none' stroke='#222' strokeWidth={1} />
        ))}
        {titles.map((t, i) => (
          <text key={i} x={t.x} y={t.y} fontSize={14} textAnchor='middle' fill='#000'>
            {t.t}
          </text>
        ))}
        {letters.map((t, i) => (
          <text key={i} x={t.x} y={t.y} fontSize={25} fontFamily='Lato, sans-serif' fill='#000'>
            {t.t}
          </text>
        ))}
        {xLabels.map((t, i) => (
          <text key={i} x={t.x} y={t.y} fontSize={11.6} textAnchor='middle' fill='#000'>
            {t.t}
          </text>
        ))}
        {yLabels.map((t, i) => (
          <text
            key={i}
            x={t.x}
            y={t.y}
            fontSize={11.6}
            textAnchor='middle'
            fill='#000'
            transform={`rotate(-90 ${t.x} ${t.y})`}
          >
            {t.t}
          </text>
        ))}
        {legends.map((l, i) => (
          <g key={i}>
            <rect x={l.x} y={l.y} width={l.w} height={l.h} rx={3} fill='#fff' fillOpacity={0.8} stroke='#d0d0d0' />
            {ancestries.map((a, j) => (
              <g key={a}>
                <circle cx={l.mx} cy={l.row0 + j * 17.95} r={R} fill={colors[j]} />
                <text x={l.tx} y={l.row0 + j * 17.95 + 4.3} fontSize={11.6} fill='#000'>
                  {a}
                </text>
              </g>
            ))}
          </g>
        ))}
      </svg>
    </div>
  )
}
